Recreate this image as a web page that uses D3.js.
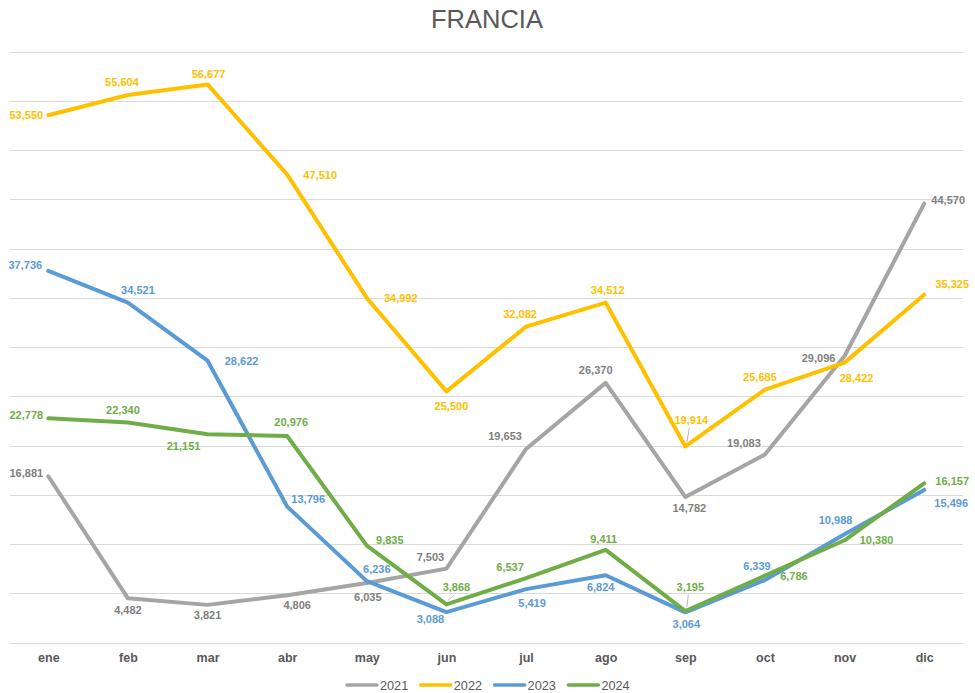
<!DOCTYPE html>
<html>
<head>
    <meta charset="UTF-8">
    <title>Francia</title>
    <script src="https://d3js.org/d3.v7.min.js"></script>
    <style>
        body { margin: 0; background: #fff; }
        text { font-family: "Liberation Sans", Arial, sans-serif; }
    </style>
</head>
<body>
    <div id="chart"></div>

    <script>
        // Data
        var months = ["ene", "feb", "mar", "abr", "may", "jun", "jul", "ago", "sep", "oct", "nov", "dic"];
        var years = ["2021", "2022", "2023", "2024"];
        var v2021 = [16881, 4482, 3821, 4806, 6035, 7503, 19653, 26370, 14782, 19083, 29096, 44570];
        var v2022 = [53550, 55604, 56677, 47510, 34992, 25500, 32082, 34512, 19914, 25685, 28422, 35325];
        var v2023 = [37736, 34521, 28622, 13796, 6236, 3088, 5419, 6824, 3064, 6339, 10988, 15496];
        var v2024 = [22778, 22340, 21151, 20976, 9835, 3868, 6537, 9411, 3195, 6786, 10380, 16157];
        var yTicks = d3.range(0, 60001, 5000);

        var series = [
            { name: "2021", values: v2021, color: "#A5A5A5", labelColor: "#7F7F7F" },
            { name: "2022", values: v2022, color: "#FFC000", labelColor: "#FFC000" },
            { name: "2023", values: v2023, color: "#5B9BD5", labelColor: "#5B9BD5" },
            { name: "2024", values: v2024, color: "#70AD47", labelColor: "#70AD47" }
        ];

        // where each data label sits, relative to its point (layout only)
        var labelOffsets = {
            "2021": [[-22, -3], [0, 12], [0, 10], [10, 10], [1, 14], [-16, -12], [-21, -13], [-10, -13], [4, 11], [-21, -12], [-26, 2], [24, -4]],
            "2022": [[-22, 0], [-6, -13], [1, -10], [33, 0], [34, 0], [5, 15], [-6, -13], [2, -13], [6, -26], [-5, -13], [12, 15], [28, -11]],
            "2023": [[-23, -6], [10, -13], [34, 0], [21, -8], [10, -12], [-16, 7], [6, 14], [-5, 12], [1, 12], [-8, -14], [-9, -14], [27, 13]],
            "2024": [[-22, -3], [-5, -12], [-24, 12], [4, -14], [23, -6], [10, -17], [-16, -11], [-2, -11], [5, -24], [29, 0], [32, 0], [28, -2]]
        };
        var leaders = [["2022", "sep"], ["2024", "jun"], ["2024", "sep"]];

        var width = 975, height = 693;
        var plot = { left: 8.5, right: 964, top: 51.7, bottom: 642.5 };

        var svg = d3.select("#chart").append("svg")
            .attr("width", width)
            .attr("height", height);

        var x = d3.scalePoint()
            .domain(months)
            .range([plot.left, plot.right])
            .padding(0.5);

        var y = d3.scaleLinear()
            .domain([0, 60000])
            .range([plot.bottom, plot.top]);

        var fmt = d3.format(",");

        // title
        svg.append("text")
            .attr("x", 487)
            .attr("y", 28)
            .attr("text-anchor", "middle")
            .style("font-size", "25.5px")
            .style("fill", "#595959")
            .text("FRANCIA");

        // gridlines
        svg.append("g")
            .selectAll("line")
            .data(yTicks)
            .enter().append("line")
            .attr("x1", 10)
            .attr("x2", 963)
            .attr("y1", function (d) { return Math.round(y(d)) + 0.5; })
            .attr("y2", function (d) { return Math.round(y(d)) + 0.5; })
            .style("stroke", "#D9D9D9")
            .style("stroke-width", 1);

        // x axis labels
        var xAxis = d3.axisBottom(x).tickSize(0).tickPadding(0);
        var gx = svg.append("g")
            .attr("transform", "translate(0," + 653 + ")")
            .call(xAxis);
        gx.select(".domain").remove();
        gx.selectAll("text")
            .attr("dy", "0.71em")
            .style("font-size", "12.5px")
            .style("font-weight", "bold")
            .style("font-family", "'Liberation Sans', Arial, sans-serif")
            .style("fill", "#595959");

        // lines
        var line = d3.line()
            .x(function (d, i) { return x(months[i]); })
            .y(function (d) { return y(d); });

        svg.append("g")
            .selectAll("path")
            .data(series)
            .enter().append("path")
            .attr("d", function (s) { return line(s.values); })
            .style("fill", "none")
            .style("stroke", function (s) { return s.color; })
            .style("stroke-width", 4)
            .style("stroke-linejoin", "round")
            .style("stroke-linecap", "round");

        // leader lines
        svg.append("g")
            .selectAll("line")
            .data(leaders)
            .enter().append("line")
            .each(function (d) {
                var s = series[years.indexOf(d[0])];
                var i = months.indexOf(d[1]);
                var px = x(months[i]), py = y(s.values[i]);
                var off = labelOffsets[s.name][i];
                d3.select(this)
                    .attr("x1", px + off[0] - 2)
                    .attr("y1", py + off[1] + 7.5)
                    .attr("x2", px + 1.5)
                    .attr("y2", py - 4);
            })
            .style("stroke", "#A6A6A6")
            .style("stroke-width", 0.8);

        // data labels
        series.forEach(function (s) {
            svg.append("g")
                .selectAll("text")
                .data(s.values)
                .enter().append("text")
                .attr("x", function (d, i) { return x(months[i]) + labelOffsets[s.name][i][0]; })
                .attr("y", function (d, i) { return y(d) + labelOffsets[s.name][i][1]; })
                .attr("dy", "0.36em")
                .attr("text-anchor", "middle")
                .style("font-size", "11px")
                .style("font-weight", "bold")
                .style("fill", s.labelColor)
                .text(function (d) { return fmt(d); });
        });

        // legend
        var legend = svg.append("g")
            .attr("transform", "translate(347,685)");

        var item = legend.selectAll("g")
            .data(series)
            .enter().append("g")
            .attr("transform", function (d, i) { return "translate(" + (i * 73.8) + ",0)"; });

        item.append("line")
            .attr("x1", 0)
            .attr("x2", 30)
            .style("stroke", function (d) { return d.color; })
            .style("stroke-width", 3.5)
            .style("stroke-linecap", "round");

        item.append("text")
            .attr("x", 33)
            .attr("dy", "0.36em")
            .style("font-size", "12.7px")
            .style("fill", "#595959")
            .text(function (d) { return d.name; });
    </script>
</body>
</html>
